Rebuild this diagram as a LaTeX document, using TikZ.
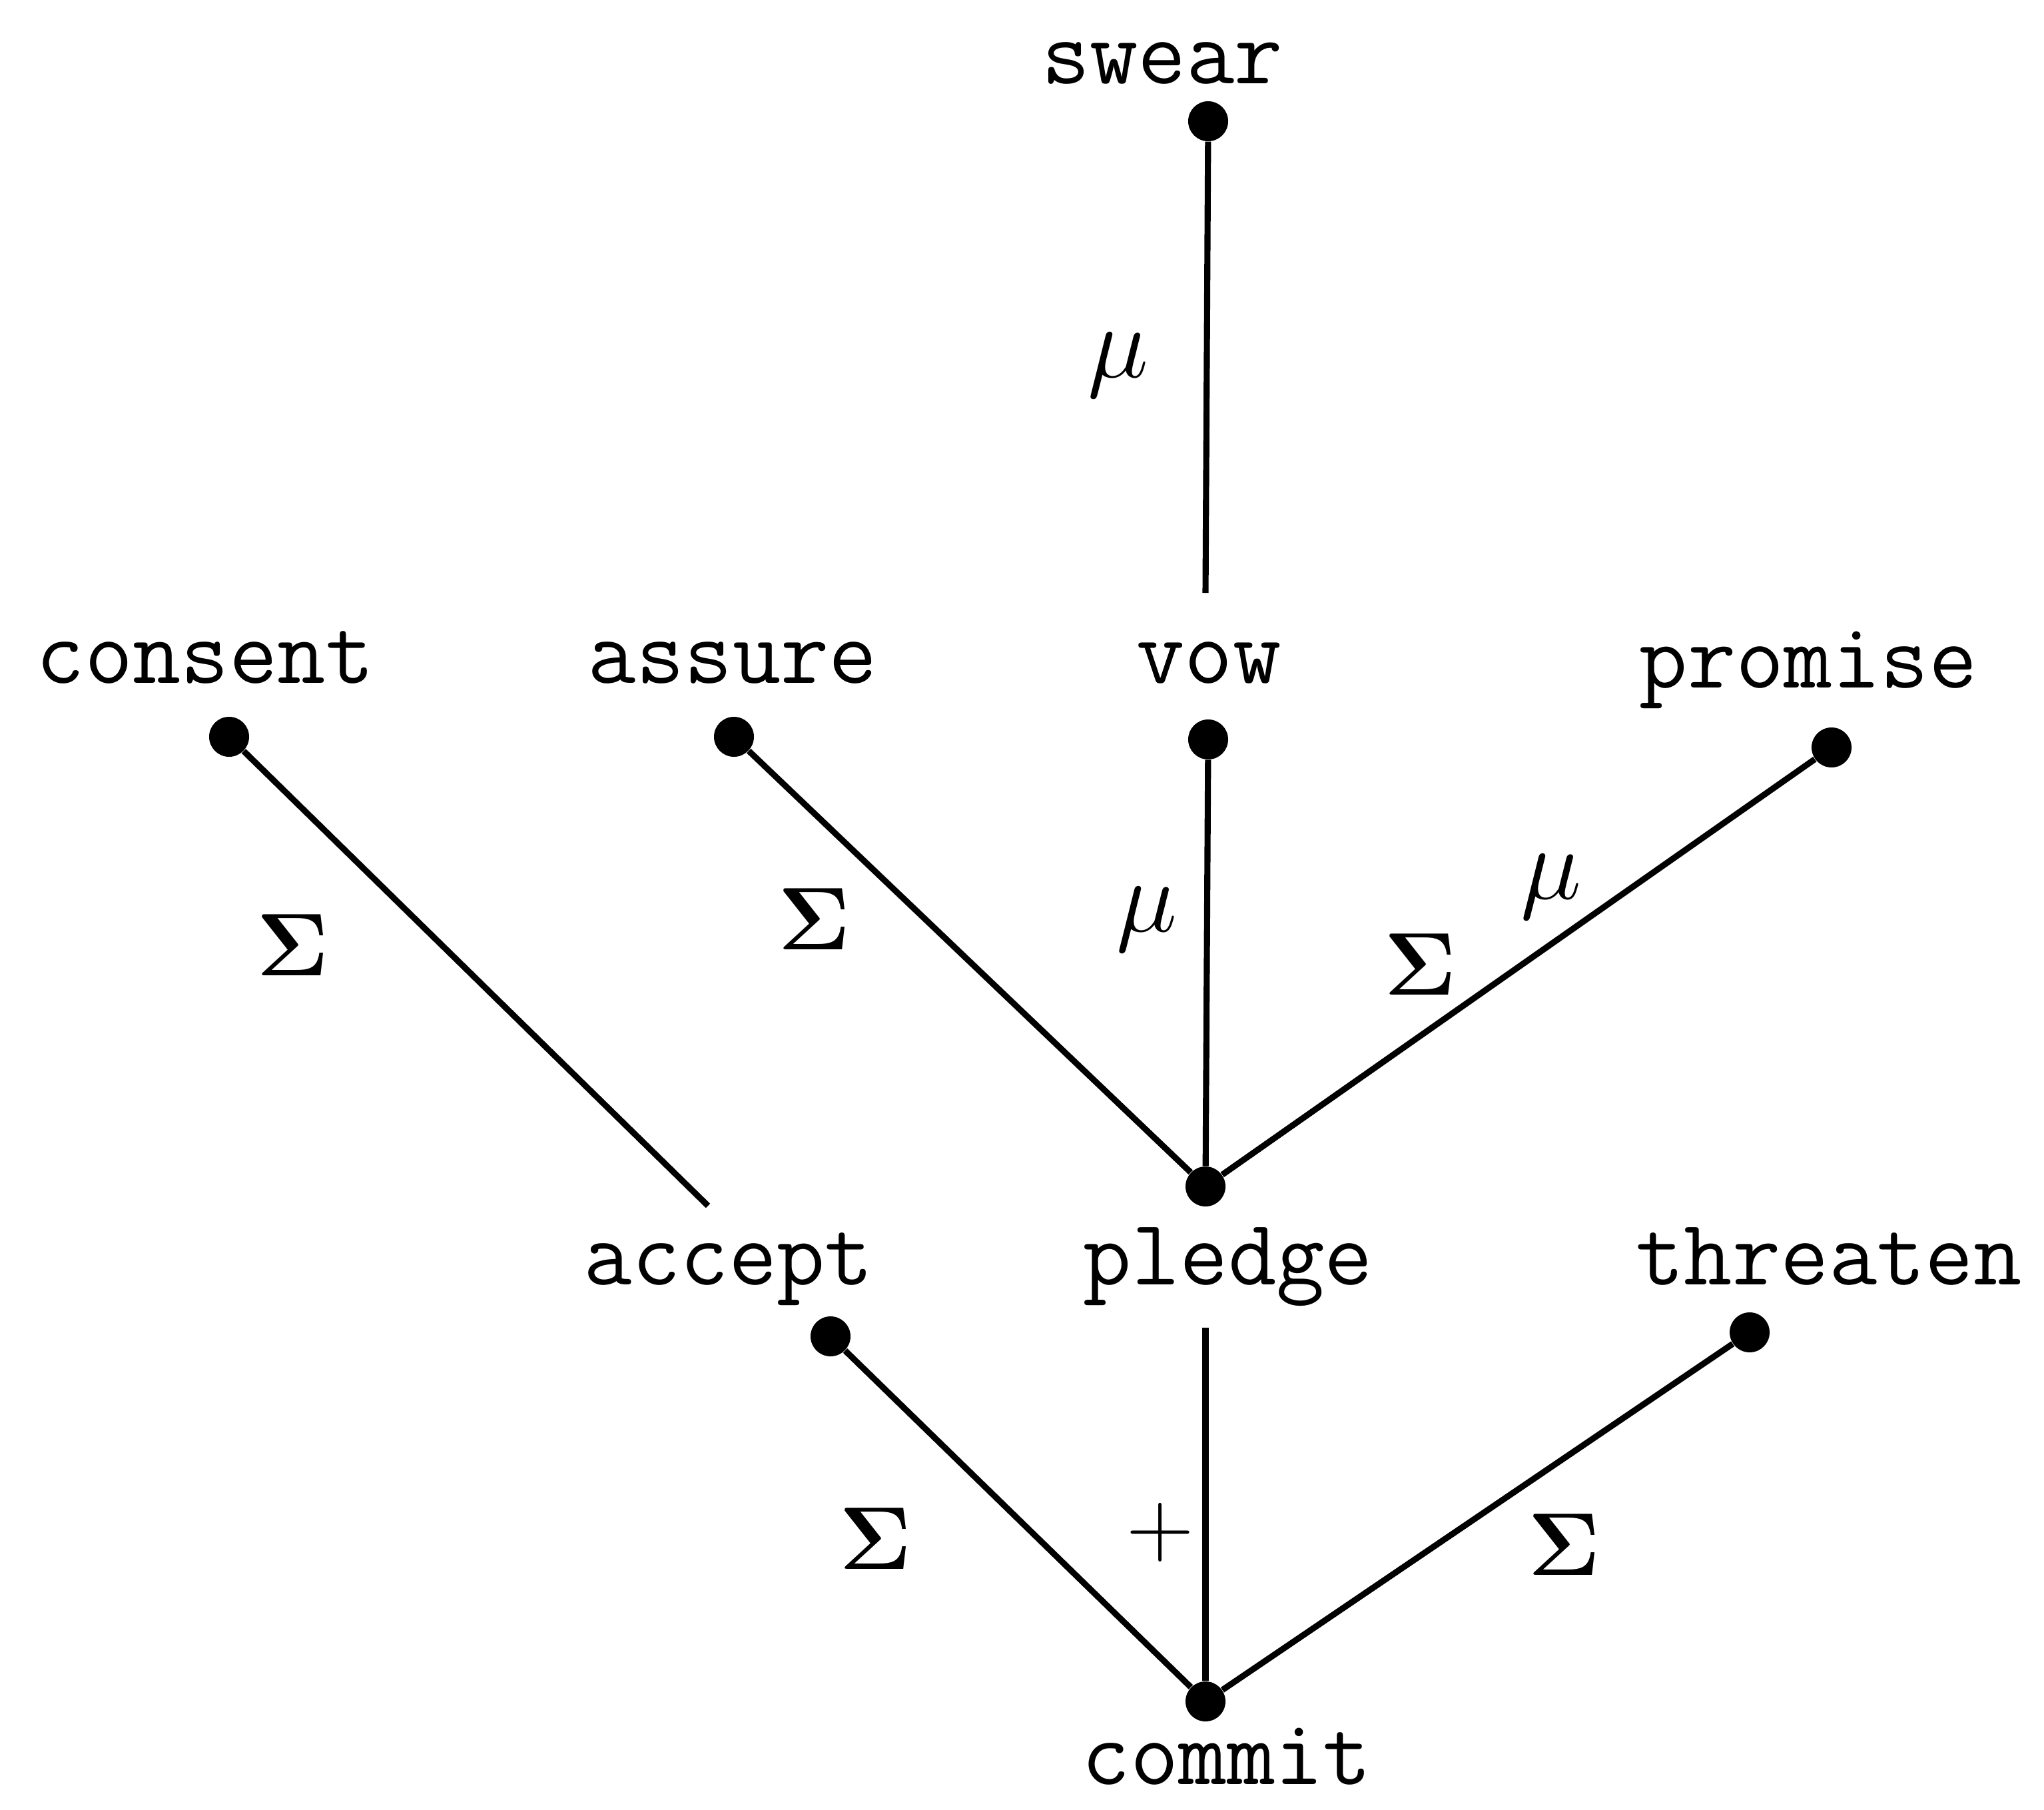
\RequirePackage{fix-cm}
\documentclass[tikz,border=0pt]{standalone}
\usepackage{bm}
\usepackage{fontspec}
\usepackage{tikz}

\begin{document}
\begin{tikzpicture}[
      word/.style={font=\ttfamily\fontsize{40}{40}\selectfont, inner sep=0pt, anchor=base},
      pt/.style={circle, fill=black, inner sep=0pt, minimum size=0.6cm},
      rel/.style={font=\fontsize{44}{44}\selectfont, inner sep=0pt},
      sig/.style={font=\fontsize{38}{38}\selectfont, inner sep=0pt},
      link/.style={line width=2.6pt, black}]
    \useasboundingbox (0,0) rectangle (30.69,-27.16);
    \node[word] (swear) at (17.45,-1.25) {swear};
    \node[word] (consent) at (3.08,-10.25) {consent};
    \node[word] (assure) at (11.00,-10.25) {assure};
    \node[word] (vow) at (18.15,-10.25) {vow};
    \node[word] (promise) at (27.15,-10.32) {promise};
    \node[word] (accept) at (10.94,-19.28) {accept};
    \node[word] (pledge) at (18.44,-19.28) {pledge};
    \node[word] (threaten) at (27.46,-19.28) {threaten};
    \node[word] (commit) at (18.42,-26.78) {commit};
    \node[pt] (swearpt) at (18.14,-1.82) {};
    \node[pt] (consentpt) at (3.44,-11.06) {};
    \node[pt] (assurept) at (11.02,-11.06) {};
    \node[pt] (vowpt) at (18.14,-11.10) {};
    \node[pt] (promisept) at (27.50,-11.22) {};
    \node[pt] (pledgept) at (18.10,-17.81) {};
    \node[pt] (acceptpt) at (12.47,-20.06) {};
    \node[pt] (threatenpt) at (26.27,-20.00) {};
    \node[pt] (commitpt) at (18.10,-25.54) {};
    \coordinate (vowtop) at (18.10,-8.90);
    \coordinate (accepttop) at (10.63,-18.10);
    \coordinate (pledgebot) at (18.10,-19.93);
    \draw[link] (swearpt) -- (vowtop);
    \draw[link] (consentpt) -- (accepttop);
    \draw[link] (assurept) -- (pledgept);
    \draw[link] (vowpt) -- (pledgept);
    \draw[link] (promisept) -- (pledgept);
    \draw[link] (pledgebot) -- (commitpt);
    \draw[link] (acceptpt) -- (commitpt);
    \draw[link] (threatenpt) -- (commitpt);
    \node[rel] (swearmu) at (16.79,-5.48) {$\mu$};
    \node[sig] (consentsig) at (4.40,-14.19) {$\bm{\Sigma}$};
    \node[sig] (assuresig) at (12.23,-13.80) {$\bm{\Sigma}$};
    \node[rel] (vowmu) at (17.22,-13.80) {$\mu$};
    \node[sig] (promisesig) at (21.33,-14.48) {$\bm{\Sigma}$};
    \node[rel] (promisemu) at (23.29,-13.31) {$\mu$};
    \node[sig] (acceptsig) at (13.15,-23.10) {$\bm{\Sigma}$};
    \node[rel, font=\fontsize{40}{40}\selectfont] (pledgeplus) at (17.42,-23.00) {$+$};
    \node[sig] (threatensig) at (23.49,-23.19) {$\bm{\Sigma}$};
  \end{tikzpicture}
\end{document}
